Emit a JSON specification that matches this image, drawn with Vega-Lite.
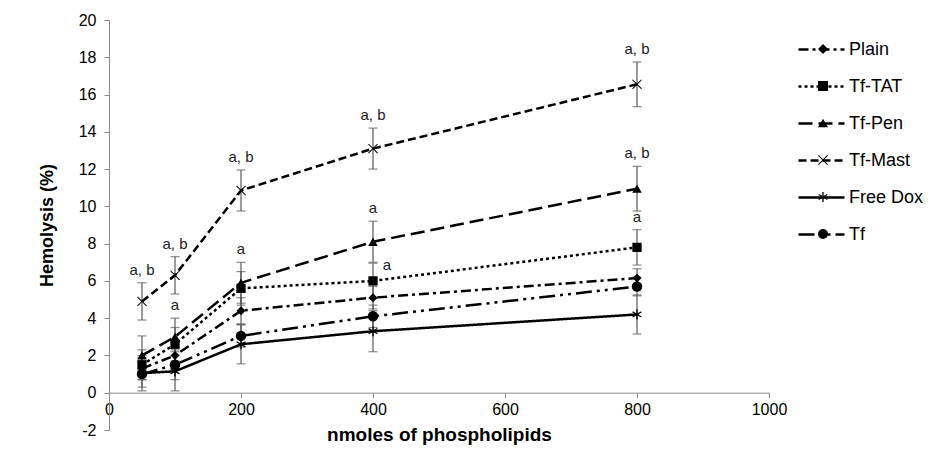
{
  "$schema": "https://vega.github.io/schema/vega-lite/v6.json",
  "width": 660,
  "height": 410,
  "autosize": {"type": "none"},
  "padding": {"left": 109, "top": 20, "right": 180, "bottom": 32},
  "background": "white",
  "config": {"font": "Liberation Sans", "view": {"stroke": null}, "axis": {"labelOverlap": false, "labelSeparation": -8}, "axisY": {"labelOverlap": false}, "axisQuantitative": {"labelOverlap": false}},
  "data": {
    "values": [
      {"nmol": 50, "hemolysis": 1.3, "err": 0.6, "series": "Plain", "sig": ""},
      {"nmol": 100, "hemolysis": 2.0, "err": 0.7, "series": "Plain", "sig": ""},
      {"nmol": 200, "hemolysis": 4.4, "err": 0.7, "series": "Plain", "sig": ""},
      {"nmol": 400, "hemolysis": 5.1, "err": 0.6, "series": "Plain", "sig": ""},
      {"nmol": 800, "hemolysis": 6.15, "err": 0.5, "series": "Plain", "sig": ""},
      {"nmol": 50, "hemolysis": 1.5, "err": 0.8, "series": "Tf-TAT", "sig": ""},
      {"nmol": 100, "hemolysis": 2.6, "err": 0.9, "series": "Tf-TAT", "sig": ""},
      {"nmol": 200, "hemolysis": 5.6, "err": 0.9, "series": "Tf-TAT", "sig": ""},
      {"nmol": 400, "hemolysis": 6.0, "err": 0.95, "series": "Tf-TAT", "sig": "a"},
      {"nmol": 800, "hemolysis": 7.8, "err": 0.95, "series": "Tf-TAT", "sig": "a"},
      {"nmol": 50, "hemolysis": 2.0, "err": 1.05, "series": "Tf-Pen", "sig": ""},
      {"nmol": 100, "hemolysis": 3.0, "err": 1.0, "series": "Tf-Pen", "sig": "a"},
      {"nmol": 200, "hemolysis": 5.9, "err": 1.1, "series": "Tf-Pen", "sig": "a"},
      {"nmol": 400, "hemolysis": 8.1, "err": 1.1, "series": "Tf-Pen", "sig": "a"},
      {"nmol": 800, "hemolysis": 10.95, "err": 1.2, "series": "Tf-Pen", "sig": "a, b"},
      {"nmol": 50, "hemolysis": 4.9, "err": 1.0, "series": "Tf-Mast", "sig": "a, b"},
      {"nmol": 100, "hemolysis": 6.3, "err": 1.0, "series": "Tf-Mast", "sig": "a, b"},
      {"nmol": 200, "hemolysis": 10.85, "err": 1.1, "series": "Tf-Mast", "sig": "a, b"},
      {"nmol": 400, "hemolysis": 13.1, "err": 1.1, "series": "Tf-Mast", "sig": "a, b"},
      {"nmol": 800, "hemolysis": 16.55, "err": 1.2, "series": "Tf-Mast", "sig": "a, b"},
      {"nmol": 50, "hemolysis": 1.05, "err": 0.95, "series": "Free Dox", "sig": ""},
      {"nmol": 100, "hemolysis": 1.15, "err": 1.05, "series": "Free Dox", "sig": ""},
      {"nmol": 200, "hemolysis": 2.6, "err": 1.05, "series": "Free Dox", "sig": ""},
      {"nmol": 400, "hemolysis": 3.3, "err": 1.1, "series": "Free Dox", "sig": ""},
      {"nmol": 800, "hemolysis": 4.2, "err": 1.05, "series": "Free Dox", "sig": ""},
      {"nmol": 50, "hemolysis": 1.0, "err": 0.7, "series": "Tf", "sig": ""},
      {"nmol": 100, "hemolysis": 1.5, "err": 0.8, "series": "Tf", "sig": ""},
      {"nmol": 200, "hemolysis": 3.05, "err": 0.6, "series": "Tf", "sig": ""},
      {"nmol": 400, "hemolysis": 4.1, "err": 0.6, "series": "Tf", "sig": ""},
      {"nmol": 800, "hemolysis": 5.7, "err": 0.5, "series": "Tf", "sig": ""}
    ]
  },
  "transform": [
    {"calculate": "datum.hemolysis - datum.err", "as": "lo"},
    {"calculate": "datum.hemolysis + datum.err", "as": "hi"},
    {"calculate": "datum.series + ' '", "as": "skey"},
    {"calculate": "datum.series + '  '", "as": "zkey"}
  ],
  "encoding": {
    "x": {
      "field": "nmol",
      "type": "quantitative",
      "scale": {"domain": [0, 1000], "nice": false},
      "axis": {
        "values": [0, 200, 400, 600, 800, 1000],
        "labelExpr": "datum.value + ''",
        "labelOverlap": false,
        "title": "nmoles of phospholipids",
        "offset": -37.3,
        "grid": false,
        "domainColor": "#888888",
        "tickColor": "#888888",
        "tickSize": 5,
        "labelFontSize": 16,
        "labelColor": "#000000",
        "labelPadding": 4,
        "labelFlush": false,
        "titleFontSize": 19,
        "titleFontWeight": "bold",
        "titleColor": "#000000",
        "titlePadding": 8
      }
    }
  },
  "layer": [
    {
      "mark": {"type": "rule", "color": "#595959", "strokeWidth": 1.2},
      "encoding": {
        "y": {
          "field": "lo",
          "type": "quantitative",
          "scale": {"domain": [-2, 20], "nice": false},
          "axis": {"values": [-2, 0, 2, 4, 6, 8, 10, 12, 14, 16, 18, 20], "labelExpr": "datum.value + ''", "labelOverlap": false, "labelSeparation": -8, "title": "Hemolysis (%)", "grid": false, "domainColor": "#888888", "tickColor": "#888888", "tickSize": 5, "labelFontSize": 16, "labelColor": "#000000", "labelPadding": 8, "titleFontSize": 18, "titleFontWeight": "bold", "titleColor": "#000000", "titlePadding": 22}
        },
        "y2": {"field": "hi"}
      }
    },
    {
      "transform": [{"fold": ["lo", "hi"], "as": ["capk", "capv"]}],
      "mark": {"type": "tick", "orient": "horizontal", "color": "#595959", "size": 9, "thickness": 1.2},
      "encoding": {
        "y": {
          "field": "capv",
          "type": "quantitative",
          "axis": {"values": [-2, 0, 2, 4, 6, 8, 10, 12, 14, 16, 18, 20], "labelExpr": "datum.value + ''", "labelOverlap": false, "labelSeparation": -8, "title": "Hemolysis (%)", "grid": false, "domainColor": "#888888", "tickColor": "#888888", "tickSize": 5, "labelFontSize": 16, "labelColor": "#000000", "labelPadding": 8, "titleFontSize": 18, "titleFontWeight": "bold", "titleColor": "#000000", "titlePadding": 22}
        }
      }
    },
    {
      "mark": {"type": "line", "color": "black"},
      "encoding": {
        "y": {
          "field": "hemolysis",
          "type": "quantitative",
          "axis": {"values": [-2, 0, 2, 4, 6, 8, 10, 12, 14, 16, 18, 20], "labelExpr": "datum.value + ''", "labelOverlap": false, "labelSeparation": -8, "title": "Hemolysis (%)", "grid": false, "domainColor": "#888888", "tickColor": "#888888", "tickSize": 5, "labelFontSize": 16, "labelColor": "#000000", "labelPadding": 8, "titleFontSize": 18, "titleFontWeight": "bold", "titleColor": "#000000", "titlePadding": 22}
        },
        "strokeDash": {
          "field": "series",
          "type": "nominal",
          "scale": {
            "domain": ["Plain", "Tf-TAT", "Tf-Pen", "Tf-Mast", "Free Dox", "Tf"],
            "range": [[10, 4, 3, 4], [3, 3], [14, 6], [8, 4], [1, 0], [16, 5, 3, 5, 3, 5]]
          },
          "legend": {
            "orient": "none",
            "legendX": 688,
            "legendY": 5,
            "title": null,
            "padding": 0,
            "symbolType": "stroke",
            "symbolSize": 2116,
            "symbolStrokeColor": "black",
            "labelFont": "Liberation Sans",
            "labelFontSize": 18,
            "labelColor": "black",
            "labelOffset": 3,
            "rowPadding": 3
          }
        },
        "strokeWidth": {
          "field": "series",
          "type": "nominal",
          "scale": {
            "domain": ["Plain", "Tf-TAT", "Tf-Pen", "Tf-Mast", "Free Dox", "Tf"],
            "range": [2.5, 2.5, 2.5, 2.5, 1.5, 2.5]
          }
        }
      }
    },
    {
      "mark": {"type": "point", "filled": true, "color": "black", "strokeWidth": 0, "opacity": 1},
      "encoding": {
        "y": {
          "field": "hemolysis",
          "type": "quantitative",
          "axis": {"values": [-2, 0, 2, 4, 6, 8, 10, 12, 14, 16, 18, 20], "labelExpr": "datum.value + ''", "labelOverlap": false, "labelSeparation": -8, "title": "Hemolysis (%)", "grid": false, "domainColor": "#888888", "tickColor": "#888888", "tickSize": 5, "labelFontSize": 16, "labelColor": "#000000", "labelPadding": 8, "titleFontSize": 18, "titleFontWeight": "bold", "titleColor": "#000000", "titlePadding": 22}
        },
        "shape": {
          "field": "skey",
          "type": "nominal",
          "scale": {
            "domain": ["Plain ", "Tf-TAT ", "Tf-Pen ", "Tf-Mast ", "Free Dox ", "Tf "],
            "range": [
              "diamond",
              "square",
              "triangle-up",
              "M0.849,-0.99L0.99,-0.849L0.141,0L0.99,0.849L0.849,0.99L0,0.141L-0.849,0.99L-0.99,0.849L-0.141,0L-0.99,-0.849L-0.849,-0.99L0,-0.141Z",
              "M-0.13,-1L0.13,-1L0.13,1L-0.13,1ZM0.801,-0.613L0.931,-0.387L-0.801,0.613L-0.931,0.387ZM-0.931,-0.387L-0.801,-0.613L0.931,0.387L0.801,0.613Z",
              "circle"
            ]
          },
          "legend": {
            "orient": "none",
            "legendX": 705,
            "legendY": 20,
            "title": null,
            "padding": 0,
            "labelExpr": "' '",
            "labelOpacity": 0,
            "labelFontSize": 18,
            "symbolSize": 100,
            "symbolFillColor": "black",
            "symbolStrokeWidth": 0,
            "rowPadding": 19
          }
        },
        "size": {
          "field": "zkey",
          "type": "nominal",
          "scale": {
            "domain": ["Plain  ", "Tf-TAT  ", "Tf-Pen  ", "Tf-Mast  ", "Free Dox  ", "Tf  "],
            "range": [80, 110, 120, 150, 80, 120]
          },
          "legend": null
        }
      }
    },
    {
      "transform": [{"filter": "datum.sig != '' && !(datum.series == 'Tf-TAT' && datum.nmol == 400)"}],
      "mark": {"type": "text", "dy": -13, "fontSize": 15, "font": "Liberation Sans", "color": "#222222", "baseline": "middle"},
      "encoding": {
        "y": {
          "field": "hi",
          "type": "quantitative",
          "axis": {"values": [-2, 0, 2, 4, 6, 8, 10, 12, 14, 16, 18, 20], "labelExpr": "datum.value + ''", "labelOverlap": false, "labelSeparation": -8, "title": "Hemolysis (%)", "grid": false, "domainColor": "#888888", "tickColor": "#888888", "tickSize": 5, "labelFontSize": 16, "labelColor": "#000000", "labelPadding": 8, "titleFontSize": 18, "titleFontWeight": "bold", "titleColor": "#000000", "titlePadding": 22}
        },
        "text": {"field": "sig"}
      }
    },
    {
      "transform": [{"filter": "datum.series == 'Tf-TAT' && datum.nmol == 400"}],
      "mark": {"type": "text", "dx": 14, "dy": 2, "fontSize": 15, "font": "Liberation Sans", "color": "#222222", "baseline": "middle"},
      "encoding": {
        "y": {
          "field": "hi",
          "type": "quantitative",
          "axis": {"values": [-2, 0, 2, 4, 6, 8, 10, 12, 14, 16, 18, 20], "labelExpr": "datum.value + ''", "labelOverlap": false, "labelSeparation": -8, "title": "Hemolysis (%)", "grid": false, "domainColor": "#888888", "tickColor": "#888888", "tickSize": 5, "labelFontSize": 16, "labelColor": "#000000", "labelPadding": 8, "titleFontSize": 18, "titleFontWeight": "bold", "titleColor": "#000000", "titlePadding": 22}
        },
        "text": {"field": "sig"}
      }
    }
  ]
}
